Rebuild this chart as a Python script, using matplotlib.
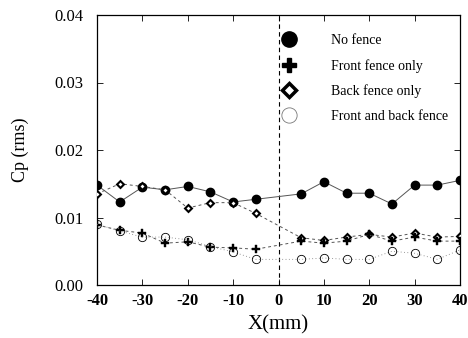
import matplotlib
matplotlib.use("Agg")
import matplotlib.pyplot as plt
from matplotlib.lines import Line2D

x = [-40, -35, -30, -25, -20, -15, -10, -5, 5, 10, 15, 20, 25, 30, 35, 40]
no_fence = [0.0148, 0.0123, 0.0145, 0.0141, 0.0146, 0.0138, 0.0123, 0.0127,
            0.0135, 0.0153, 0.0136, 0.0136, 0.0120, 0.0148, 0.0148, 0.0155]
front_only = [0.0089, 0.0081, 0.0077, 0.0062, 0.0064, 0.0056, 0.0055, 0.0053,
              0.0065, 0.0062, 0.0065, 0.0075, 0.0065, 0.0071, 0.0065, 0.0065]
back_only = [0.0135, 0.0150, 0.0146, 0.0141, 0.0114, 0.0122, 0.0122, 0.0106,
             0.0070, 0.0066, 0.0071, 0.0075, 0.0071, 0.0077, 0.0071, 0.0072]
front_back = [0.0090, 0.0080, 0.0071, 0.0071, 0.0067, 0.0057, 0.0049, 0.0038,
              0.0038, 0.0040, 0.0038, 0.0038, 0.0050, 0.0047, 0.0038, 0.0052]
labels = ["No fence", "Front fence only", "Back fence only", "Front and back fence"]
xticks = [-40, -30, -20, -10, 0, 10, 20, 30, 40]
yticks = [0.00, 0.01, 0.02, 0.03, 0.04]

plt.rcParams['font.family'] = ['Liberation Serif', 'DejaVu Serif']

fig = plt.figure(figsize=(4.68, 3.38), dpi=100)
ax = fig.add_axes([97/468, 1-285/338, (460-97)/468, (285-15)/338])

ax.plot(x, no_fence, color='#555555', lw=0.7, ls='-', marker='o', ms=6,
        mfc='black', mec='black', zorder=3)
ax.plot(x, back_only, color='#555555', lw=0.7, ls=(0, (3, 3)), marker='D', ms=3.5,
        mfc='white', mec='black', mew=1.5, zorder=3)
ax.plot(x, front_only, color='#555555', lw=0.7, ls=(0, (3, 3)), marker='P', ms=6,
        mfc='black', mec='black', mew=0.3, zorder=4)
ax.plot(x, front_back, color='#777777', lw=0.6, ls=(0, (1, 3)), marker='o', ms=6,
        mfc='none', mec='black', mew=0.6, zorder=4)

ax.axvline(0, color='black', lw=0.8, ls=(0, (4, 3)))

ax.set_xlim(-40, 40)
ax.set_ylim(0, 0.04)
ax.set_xticks(xticks)
ax.set_yticks(yticks)
ax.set_yticklabels([f"{v:.2f}" for v in yticks], fontsize=12)
ax.set_xticklabels([str(v) for v in xticks], fontsize=12, fontweight='bold')
ax.tick_params(axis='x', direction='in', top=True, length=4, width=0.6, pad=6)
ax.tick_params(axis='y', direction='in', right=True, length=4, width=0.6, pad=10)
for s in ax.spines.values():
    s.set_linewidth(0.9)

ax.set_xlabel("X(mm)", fontsize=15, labelpad=4)
ax.set_ylabel("Cp (rms)", fontsize=13, labelpad=18)

handles = [
    Line2D([], [], ls='none', marker='o', ms=11, mfc='black', mec='black'),
    Line2D([], [], ls='none', marker='P', ms=10, mfc='black', mec='black'),
    Line2D([], [], ls='none', marker='D', ms=7, mfc='white', mec='black', mew=2.5),
    Line2D([], [], ls='none', marker='o', ms=11, mfc='none', mec='#777777', mew=0.6),
]
leg = ax.legend(handles, labels, loc='upper left', bbox_to_anchor=(0.475, 0.95),
                frameon=False, fontsize=10, handletextpad=2.0,
                labelspacing=0.85, borderaxespad=0)

fig.savefig("out.png", dpi=100)
